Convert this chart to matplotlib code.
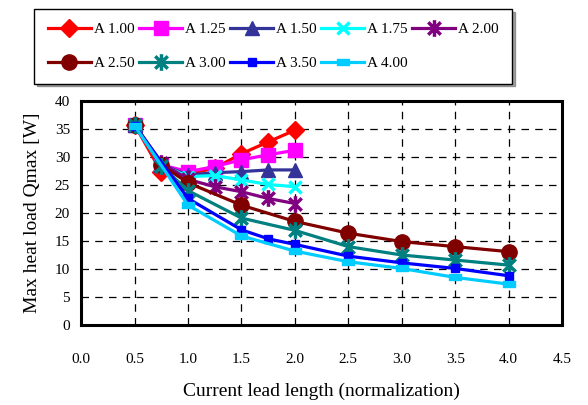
import matplotlib
matplotlib.use('Agg')
import matplotlib.pyplot as plt
from matplotlib.path import Path

plt.rcParams['font.family'] = ['Liberation Serif', 'DejaVu Serif']

# x positions of the calculated points
x_short = [0.5, 0.75, 1.0, 1.25, 1.5, 1.75, 2.0]
x_250 = [0.5, 0.75, 1.0, 1.5, 2.0, 2.5, 3.0, 3.5, 4.0]
x_300 = [0.5, 0.75, 1.0, 1.5, 2.0, 2.5, 3.0, 3.5, 4.0]
x_350 = [0.5, 1.0, 1.5, 1.75, 2.0, 2.5, 3.0, 3.5, 4.0]
x_400 = [0.5, 1.0, 1.5, 2.0, 2.5, 3.0, 3.5, 4.0]

# Qmax [W]
q_100 = [35.8, 27.3, 27.0, 28.0, 30.6, 32.7, 34.8]
q_125 = [35.8, 28.6, 27.4, 28.3, 29.5, 30.4, 31.2]
q_150 = [35.8, 28.6, 26.8, 27.2, 27.4, 27.7, 27.7]
q_175 = [35.8, 28.6, 26.5, 26.7, 25.9, 25.1, 24.7]
q_200 = [35.8, 29.0, 26.0, 24.7, 23.8, 22.6, 21.7]
q_250 = [35.8, 28.6, 25.4, 21.4, 18.5, 16.4, 14.9, 14.0, 13.1]
q_300 = [35.8, 28.4, 24.0, 19.1, 16.9, 14.0, 12.5, 11.6, 10.7]
q_350 = [35.6, 22.6, 17.0, 15.4, 14.4, 12.3, 11.1, 10.1, 8.8]
q_400 = [35.6, 21.4, 15.9, 13.2, 11.3, 10.1, 8.5, 7.3]

labels = ['A 1.00', 'A 1.25', 'A 1.50', 'A 1.75', 'A 2.00',
          'A 2.50', 'A 3.00', 'A 3.50', 'A 4.00']

# asterisk marker like Excel's star
star = Path([(0, -1), (0, 1), (-0.75, -0.75), (0.75, 0.75), (-0.75, 0.75), (0.75, -0.75)],
            [Path.MOVETO, Path.LINETO, Path.MOVETO, Path.LINETO, Path.MOVETO, Path.LINETO])
flat = Path([(-1.3, -0.7), (1.3, -0.7), (1.3, 0.7), (-1.3, 0.7), (-1.3, -0.7)],
            [Path.MOVETO, Path.LINETO, Path.LINETO, Path.LINETO, Path.CLOSEPOLY])

series = [
    (x_short, q_100, '#FF0000', 'D', 9, 1),
    (x_short, q_125, '#FF00FF', 's', 10, 1),
    (x_short, q_150, '#333399', '^', 10, 1),
    (x_short, q_175, '#00FFFF', 'x', 9, 2.5),
    (x_short, q_200, '#800080', star, 12, 2.5),
    (x_250, q_250, '#800000', 'o', 11, 1),
    (x_300, q_300, '#008080', star, 12, 2.5),
    (x_350, q_350, '#0000FF', 's', 6, 1),
    (x_400, q_400, '#00CCFF', flat, 9, 1),
]

fig = plt.figure(figsize=(5.88, 4.05), dpi=100)
ax = fig.add_axes([0.138, 0.1975, 0.818, 0.553])

handles = []
for (xs, ys, c, m, ms, mew), lab in zip(series, labels):
    h, = ax.plot(xs, ys, color=c, lw=2.3, marker=m, ms=ms,
                 mec=c, mfc=c, mew=mew, label=lab)
    handles.append(h)

ax.set_xlim(0, 4.5)
ax.set_ylim(0, 40)
ax.set_xticks([i * 0.5 for i in range(10)])
ax.set_yticks(range(0, 41, 5))
ax.set_xticklabels(['0.0', '0.5', '1.0', '1.5', '2.0', '2.5', '3.0', '3.5', '4.0', '4.5'])
ax.grid(True, color='black', linestyle=(0, (6, 5)), linewidth=0.9)
ax.tick_params(axis='x', length=0, pad=20, labelsize=11)
ax.tick_params(axis='y', length=0, pad=8, labelsize=11)
for s in ax.spines.values():
    s.set_linewidth(2.2)

ax.set_xlabel('Current lead length (normalization)', fontsize=14, labelpad=12)
ax.set_ylabel('Max heat load Qmax [W]', fontsize=14, labelpad=10)

# legend fills row by row in the reference
order = [0, 5, 1, 6, 2, 7, 3, 8, 4]
fig.legend(handles=[handles[i] for i in order], loc='upper center',
           bbox_to_anchor=(0.465, 0.978),
           ncol=5, fontsize=11, frameon=True, fancybox=False, shadow=True,
           edgecolor='black', framealpha=1, handlelength=2.8,
           columnspacing=0.3, handletextpad=0.2, borderpad=0.9,
           labelspacing=1.3, borderaxespad=0)

fig.savefig('out.png', dpi=100)
